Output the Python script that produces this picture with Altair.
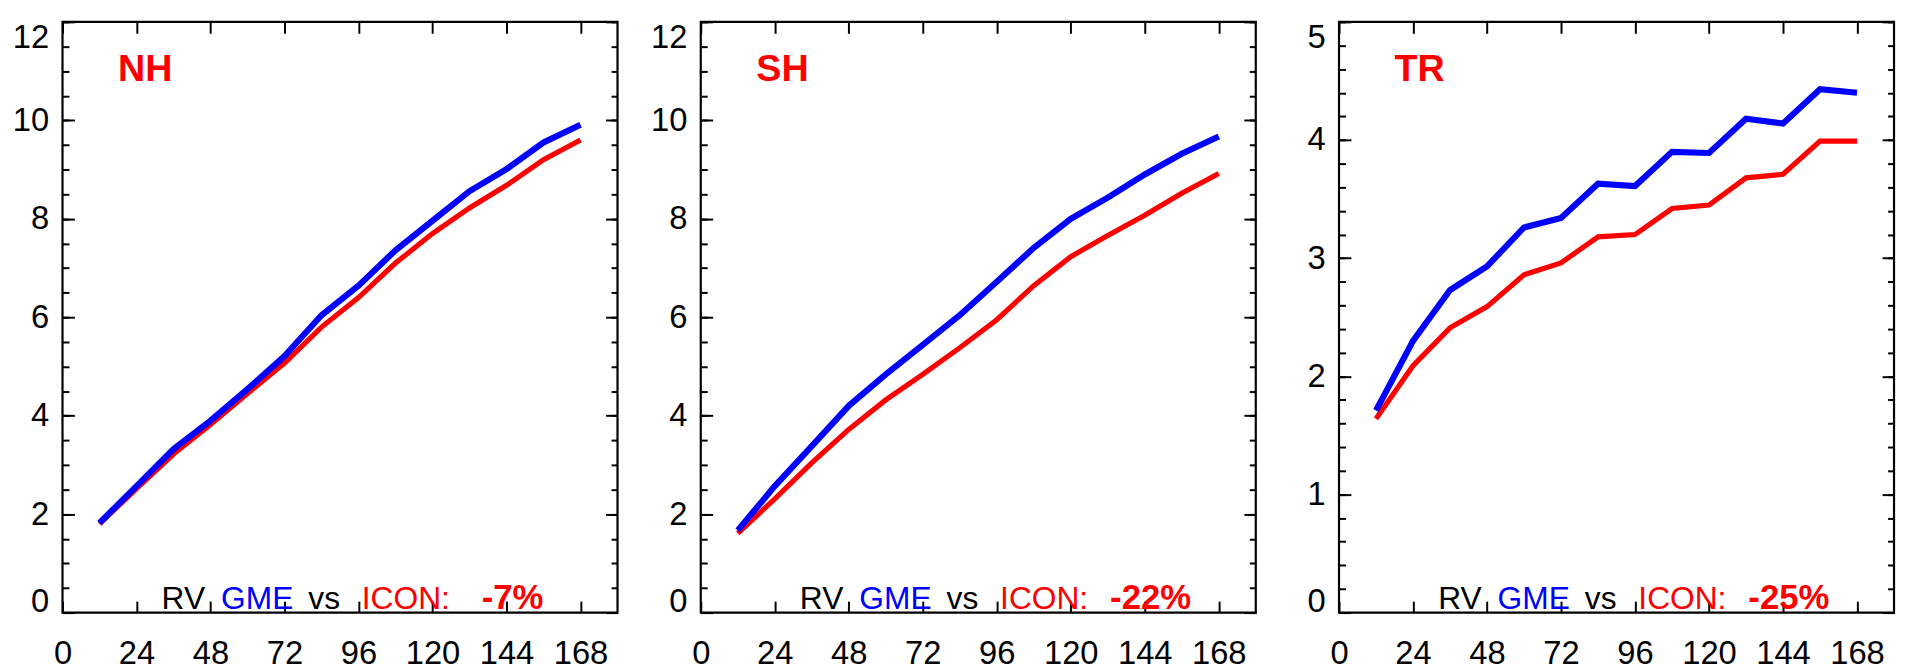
import altair as alt
import pandas as pd

# ---------------- data ----------------
hours = [12, 24, 36, 48, 60, 72, 84, 96, 108, 120, 132, 144, 156, 168]

nh_gme = [1.82, 2.57, 3.32, 3.90, 4.54, 5.21, 6.04, 6.64, 7.36, 7.96, 8.56, 9.01, 9.55, 9.91]
nh_icon = [1.80, 2.52, 3.22, 3.82, 4.45, 5.07, 5.80, 6.40, 7.10, 7.70, 8.22, 8.68, 9.20, 9.60]

sh_gme = [1.67, 2.57, 3.38, 4.20, 4.84, 5.44, 6.04, 6.72, 7.41, 8.00, 8.43, 8.90, 9.32, 9.67]
sh_icon = [1.61, 2.31, 3.04, 3.72, 4.32, 4.84, 5.38, 5.95, 6.64, 7.23, 7.66, 8.07, 8.52, 8.92]

tr_gme = [1.71, 2.30, 2.73, 2.93, 3.26, 3.34, 3.63, 3.61, 3.90, 3.89, 4.18, 4.14, 4.43, 4.40]
tr_icon = [1.64, 2.09, 2.41, 2.59, 2.86, 2.96, 3.18, 3.20, 3.42, 3.45, 3.68, 3.71, 3.99, 3.99]

regions = ["NH", "SH", "TR"]
percents = ["-7%", "-22%", "-25%"]
gme_series = [nh_gme, sh_gme, tr_gme]
icon_series = [nh_icon, sh_icon, tr_icon]

x_ticks = [0, 24, 48, 72, 96, 120, 144, 168]
x_domain = [0, 180]
y_max = [12, 12, 5]
y_major = [[0, 2, 4, 6, 8, 10, 12], [0, 2, 4, 6, 8, 10, 12], [0, 1, 2, 3, 4, 5]]
y_minor = [
    [i * 0.5 for i in range(25)],
    [i * 0.5 for i in range(25)],
    [round(i * 0.2, 1) for i in range(26)],
]

# ---------------- layout / style ----------------
W, H = 560, 596
FONT = "Liberation Sans"
RED = "#ff0000"
BLUE = "#0000ff"


def tick_axis(orient, offset, values, size):
    return alt.Axis(
        orient=orient, offset=offset, values=values, tickSize=size,
        ticks=True, labels=False, domain=False, grid=False,
        tickColor="black", tickWidth=2, minExtent=0, title=None,
    )


def panel(i):
    n = len(hours)
    df = pd.DataFrame({
        "hour": hours + hours,
        "value": icon_series[i] + gme_series[i],
        "model": ["ICON"] * n + ["GME"] * n,
    })
    xs = alt.Scale(domain=x_domain, nice=False, zero=False)
    ys = alt.Scale(domain=[0, y_max[i]], nice=False, zero=False)
    base = alt.Chart(df)

    def ax_layer(xaxis, yaxis):
        return base.mark_line(strokeOpacity=0).encode(
            x=alt.X("hour:Q", scale=xs, axis=xaxis, title=None),
            y=alt.Y("value:Q", scale=ys, axis=yaxis, title=None),
            detail="model:N",
        )

    label_layer = ax_layer(
        alt.Axis(orient="bottom", values=x_ticks, ticks=False, tickSize=0,
                 domain=False, grid=False, labelPadding=25, labelFlush=False,
                 labelOverlap=False, labelFontSize=33, labelFont=FONT,
                 labelColor="black", title=None),
        alt.Axis(orient="left", values=y_major[i], ticks=False, tickSize=0,
                 domain=False, grid=False, labelPadding=14, labelFlush=True,
                 labelOffset={"condition": {"test": "datum.value === 0", "value": 6},
                              "value": 0},
                 labelOverlap=False, labelFontSize=33, labelFont=FONT,
                 labelColor="black", minExtent=50, maxExtent=50, title=None),
    )
    t1 = ax_layer(tick_axis("top", -H, x_ticks, 11.5),
                  tick_axis("right", -W, y_major[i], 12))
    t2 = ax_layer(tick_axis("bottom", -H, x_ticks, 11.5),
                  tick_axis("right", -W, y_minor[i], 6.5))
    t3 = ax_layer(None, tick_axis("left", -W, y_major[i], 12))
    t4 = ax_layer(None, tick_axis("left", -W, y_minor[i], 6.5))

    red = base.transform_filter(alt.datum.model == "ICON").mark_line(
        color=RED, strokeWidth=5.2).encode(
        x=alt.X("hour:Q", scale=xs, axis=None),
        y=alt.Y("value:Q", scale=ys, axis=None),
    )
    blue = base.transform_filter(alt.datum.model == "GME").mark_line(
        color=BLUE, strokeWidth=6.2).encode(
        x=alt.X("hour:Q", scale=xs, axis=None),
        y=alt.Y("value:Q", scale=ys, axis=None),
    )

    def txt(s, xpx, ypx, color, size, weight="normal"):
        return alt.Chart(pd.DataFrame({"t": [s]})).mark_text(
            align="left", baseline="alphabetic", font=FONT, fontSize=size,
            fontWeight=weight, color=color,
        ).encode(text="t:N", x=alt.value(xpx), y=alt.value(ypx))

    pct_x = 423 if i == 0 else 413
    texts = [
        txt(regions[i], 56, 60, RED, 38, "bold"),
        txt("RV", 100, 592, "black", 32),
        txt("GME", 160, 592, BLUE, 32),
        txt("vs", 248, 592, "black", 32),
        txt("ICON:", 302, 592, RED, 32),
        txt(percents[i], pct_x, 592, RED, 35, "bold"),
    ]

    return alt.layer(label_layer, t1, t2, t3, t4, red, blue, *texts).resolve_axis(
        x="independent", y="independent"
    ).properties(width=W, height=H)


chart = alt.hconcat(panel(0), panel(1), panel(2), spacing=29).properties(
    padding={"left": 3, "top": 8, "right": 0, "bottom": 0},
    background="white",
).configure_view(stroke="black", strokeWidth=2.2)

chart.save("out.html", embed_options={"renderer": "svg", "actions": False})
